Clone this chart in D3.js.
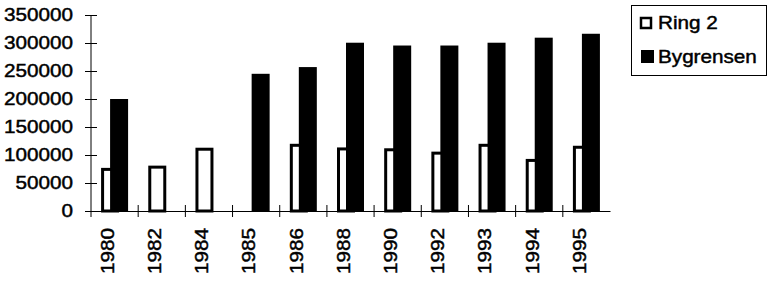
<!DOCTYPE html>
<html>
<head>
<meta charset="utf-8">
<script src="https://cdn.jsdelivr.net/npm/d3@7"></script>
<style>
  body { margin: 0; background: #fff; }
  svg { display: block; font-family: "Liberation Sans", Arial, sans-serif; }
  svg text { stroke: #000; stroke-width: 0.45px; }
</style>
</head>
<body>
<svg id="chart"></svg>
<script>
// Data
const years = ["1980", "1982", "1984", "1985", "1986", "1988", "1990", "1992", "1993", "1994", "1995"];
const ring2 = [77000, 81000, 113000, null, 120000, 113500, 112000, 106000, 120000, 93000, 116500];
const bygrensen = [200000, null, null, 245000, 257000, 300500, 295500, 295500, 300500, 309500, 316500];
const yTicks = [0, 50000, 100000, 150000, 200000, 250000, 300000, 350000];
const seriesNames = ["Ring 2", "Bygrensen"];

const width = 775;
const height = 281;
const marginLeft = 91;
const marginRight = 165;
const marginTop = 15;
const marginBottom = 70;
const stretch = 1.15;   // the original font is wider than Arial

const svg = d3.select("#chart")
    .attr("width", width)
    .attr("height", height)
    .attr("viewBox", [0, 0, width, height]);

const x = d3.scaleBand(years, [marginLeft, width - marginRight]).padding(0);
const y = d3.scaleLinear([0, 350000], [height - marginBottom, marginTop]);

const barW = 18;
const overlap = 9;
const y0 = y(0);

// Ring 2 bars (white, thick outline)
svg.append("g")
  .selectAll("rect")
  .data(years.map((yr, i) => ({ yr, v: ring2[i] })).filter(d => d.v != null))
  .join("rect")
    .attr("x", d => x(d.yr) + x.bandwidth() / 2 - (2 * barW - overlap) / 2 + 1.5)
    .attr("y", d => y(d.v) + 1.5)
    .attr("width", barW - 3)
    .attr("height", d => y0 - y(d.v) - 1.5)
    .attr("fill", "#fff")
    .attr("stroke", "#000")
    .attr("stroke-width", 3);

// Bygrensen bars (black), drawn over the white ones
svg.append("g")
  .selectAll("rect")
  .data(years.map((yr, i) => ({ yr, v: bygrensen[i] })).filter(d => d.v != null))
  .join("rect")
    .attr("x", d => x(d.yr) + x.bandwidth() / 2 - (2 * barW - overlap) / 2 + barW - overlap)
    .attr("y", d => y(d.v))
    .attr("width", barW)
    .attr("height", d => y0 - y(d.v))
    .attr("fill", "#000");

// Y axis with crossing ticks
svg.append("g")
    .attr("transform", `translate(${marginLeft},0)`)
    .call(d3.axisLeft(y).tickValues(yTicks).tickSize(6).tickPadding(12).tickFormat(d3.format("d")))
    .call(g => g.select(".domain").attr("d", `M0,${marginTop}V${y0 + 6}`).attr("stroke", "#000"))
    .call(g => g.selectAll(".tick line").attr("x1", 6).attr("stroke", "#000"))
    .call(g => g.selectAll(".tick text")
        .attr("x", -18 / stretch)
        .attr("transform", `scale(${stretch},1)`)
        .attr("fill", "#000")
        .attr("font-size", 18)
        .attr("font-family", "Liberation Sans, Arial, sans-serif"));

// X axis: line, ticks between categories, rotated labels
svg.append("g")
    .attr("transform", `translate(0,${y0})`)
    .call(d3.axisBottom(x).tickSize(0).tickSizeOuter(0))
    .call(g => g.select(".domain").attr("stroke", "#000"))
    .call(g => g.selectAll(".tick text")
        .attr("text-anchor", "end")
        .attr("x", -17 / stretch)
        .attr("y", -7)
        .attr("dy", "0.35em")
        .attr("transform", `rotate(-90) scale(${stretch},1)`)
        .attr("fill", "#000")
        .attr("font-size", 18)
        .attr("font-family", "Liberation Sans, Arial, sans-serif"))
    .call(g => g.append("g")
      .selectAll("line")
      .data(years.slice(1))
      .join("line")
        .attr("x1", d => x(d))
        .attr("x2", d => x(d))
        .attr("y1", -6)
        .attr("y2", 6)
        .attr("stroke", "#000"));

// Legend
const legend = svg.append("g").attr("transform", "translate(631,5)");
legend.append("rect")
    .attr("x", 0.5).attr("y", 0.5)
    .attr("width", 135).attr("height", 70)
    .attr("fill", "#fff").attr("stroke", "#000");

const items = legend.selectAll("g.item")
  .data(seriesNames)
  .join("g")
    .attr("class", "item")
    .attr("transform", (d, i) => `translate(0,${i * 34})`);

items.append("rect")
    .attr("x", 10)
    .attr("y", (d, i) => i ? 11 : 13)
    .attr("width", (d, i) => i ? 13 : 10)
    .attr("height", (d, i) => i ? 13 : 10)
    .attr("fill", (d, i) => i ? "#000" : "#fff")
    .attr("stroke", "#000")
    .attr("stroke-width", (d, i) => i ? 0 : 2.5);

items.append("text")
    .attr("x", 27 / stretch)
    .attr("y", 24)
    .attr("transform", `scale(${stretch},1)`)
    .attr("font-size", 18)
    .attr("fill", "#000")
    .text(d => d);
</script>
</body>
</html>
